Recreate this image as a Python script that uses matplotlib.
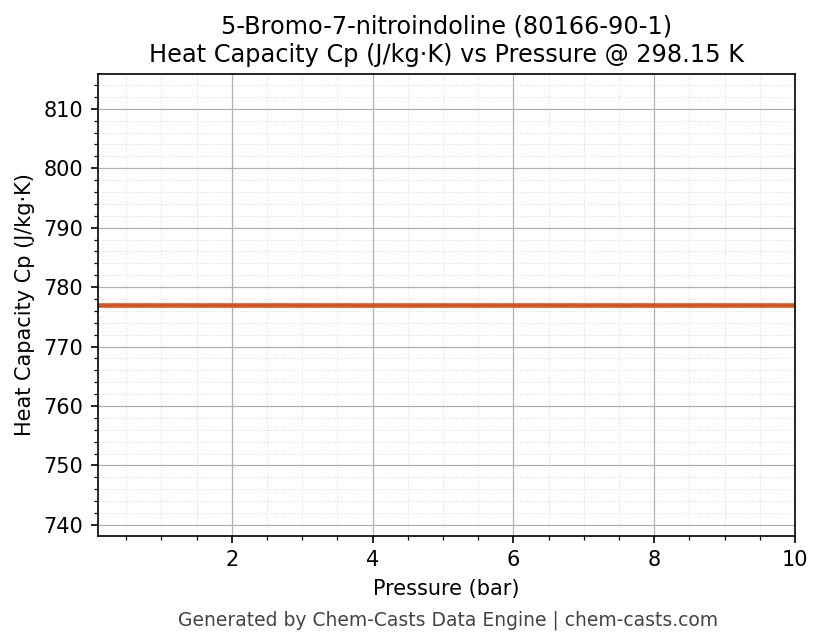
import matplotlib
matplotlib.use("Agg")
import matplotlib.pyplot as plt
import numpy as np

pressure = [0.1, 1, 2, 3, 4, 5, 6, 7, 8, 9, 10]
cp = [777.0] * len(pressure)

fig, ax = plt.subplots(figsize=(823/150, 644/150), dpi=150)
fig.subplots_adjust(left=0.119, right=0.966, top=0.885, bottom=0.168)
ax.plot(pressure, cp, color="#d9531e", linewidth=2.2)
ax.set_xlim(0.1, 10)
ax.set_ylim(777*0.95, 777*1.05)
ax.minorticks_on()
ax.grid(which="major", color="#b0b0b0", linewidth=0.6)
ax.grid(which="minor", color="#d8d8d8", linewidth=0.4, linestyle=":")
ax.set_xlabel("Pressure (bar)")
ax.set_ylabel("Heat Capacity Cp (J/kg·K)")
ax.set_title("5-Bromo-7-nitroindoline (80166-90-1)\nHeat Capacity Cp (J/kg·K) vs Pressure @ 298.15 K", fontsize=11.5)
fig.text(0.545, 0.028, "Generated by Chem-Casts Data Engine | chem-casts.com", ha="center", color="#444444", fontsize=9)
fig.savefig("out.png", dpi=150)
